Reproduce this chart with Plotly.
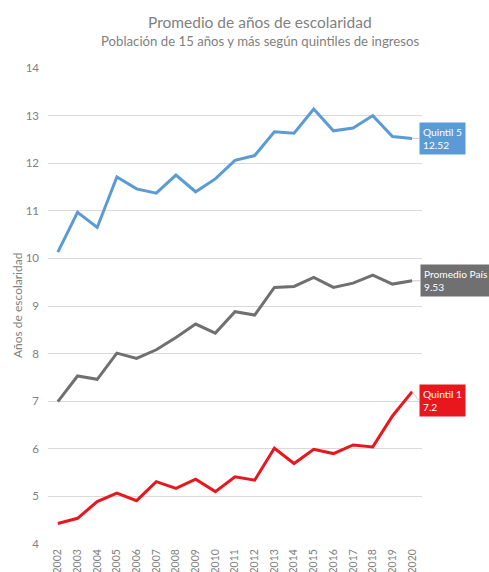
import plotly.graph_objects as go

years = list(range(2002, 2021))
year_labels = [str(y) for y in years]
quintil5 = [10.13, 10.97, 10.65, 11.71, 11.46, 11.37, 11.75, 11.40, 11.67, 12.06,
            12.16, 12.66, 12.63, 13.14, 12.68, 12.74, 13.00, 12.56, 12.52]
promedio = [6.99, 7.53, 7.46, 8.01, 7.90, 8.08, 8.34, 8.62, 8.43, 8.88,
            8.81, 9.39, 9.41, 9.60, 9.39, 9.48, 9.65, 9.46, 9.53]
quintil1 = [4.43, 4.54, 4.89, 5.07, 4.91, 5.31, 5.17, 5.36, 5.10, 5.41,
            5.34, 6.01, 5.69, 5.99, 5.90, 6.08, 6.04, 6.69, 7.20]
series_names = ["Quintil 5", "Promedio País", "Quintil 1"]
series_labels = ["12.52", "9.53", "7.2"]
colors = ["#5b9bd5", "#707070", "#e8161d"]
y_ticks = [4, 5, 6, 7, 8, 9, 10, 11, 12, 13, 14]

FONT = "Lato"
fig = go.Figure()
for name, vals, col in zip(series_names, [quintil5, promedio, quintil1], colors):
    fig.add_trace(go.Scatter(x=years, y=vals, mode="lines", name=name,
                             line=dict(color=col, width=3), showlegend=False))

label_offsets = [(7, 0), (8, 0), (7, 9)]
for name, vals, lab, col, (ax, ay) in zip(series_names, [quintil5, promedio, quintil1],
                                          series_labels, colors, label_offsets):
    fig.add_annotation(x=years[-1], y=vals[-1], xref="x", yref="y",
                       text=f"{name}<br>{lab}", showarrow=True,
                       ax=ax, ay=ay, axref="pixel", ayref="pixel",
                       arrowhead=0, arrowwidth=0.8, arrowcolor="#bfbfbf",
                       standoff=0,
                       xanchor="left", yanchor="middle", align="left",
                       bgcolor=col, borderpad=3,
                       font=dict(family=FONT, size=10.2, color="white"))

fig.add_annotation(x=0.5, y=1, xref="paper", yref="paper", yanchor="middle",
                   yshift=46, xshift=25,
                   text="Promedio de años de escolaridad", showarrow=False,
                   font=dict(family=FONT, size=15.5, color="#7f7f7f"))
fig.add_annotation(x=0.5, y=1, xref="paper", yref="paper", yanchor="middle",
                   yshift=27, xshift=25,
                   text="Población de 15 años y más según quintiles de ingresos",
                   showarrow=False,
                   font=dict(family=FONT, size=13.2, color="#7f7f7f"))
fig.add_annotation(x=0, y=0.5, xref="paper", yref="paper", xanchor="center",
                   yanchor="middle", xshift=-31, textangle=-90,
                   text="Años de escolaridad", showarrow=False,
                   font=dict(family=FONT, size=12, color="#808080"))

fig.update_layout(
    width=489, height=572,
    margin=dict(l=48, r=67, t=68, b=28),
    paper_bgcolor="white", plot_bgcolor="white",
    font=dict(family=FONT, color="#808080"),
    xaxis=dict(range=[2001.5, 2020.5], tickvals=years, ticktext=year_labels,
               tickangle=-90, showgrid=False, showline=False, zeroline=False,
               ticks="", automargin=False, ticklabelstandoff=2,
               tickfont=dict(size=10.5, color="#808080")),
    yaxis=dict(range=[4, 14], tickvals=y_ticks, showgrid=True, gridcolor="#d9d9d9",
               gridwidth=1, zeroline=False, showline=False, ticks="",
               automargin=False, ticklabelstandoff=8,
               tickfont=dict(size=11.5, color="#808080")),
)
# remove the default 8px page margin so the figure sits at the window's corner
fig.write_html("out.html", config={"displayModeBar": False},
               post_script="document.body.style.margin='0';document.body.style.overflow='hidden';")
